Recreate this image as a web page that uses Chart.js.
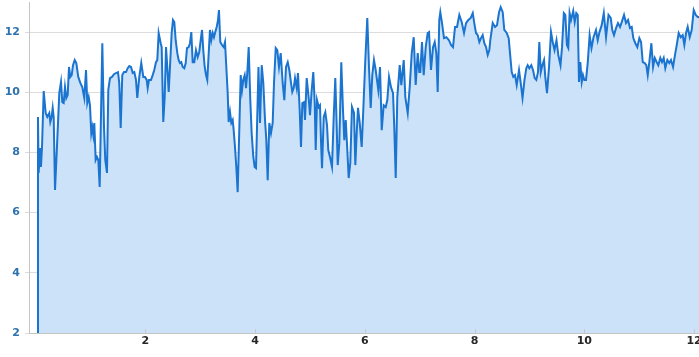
<!DOCTYPE html>
<html>
<head>
<meta charset="utf-8">
<script src="https://cdn.jsdelivr.net/npm/chart.js@4/dist/chart.umd.min.js"></script>
<style>
html,body{margin:0;padding:0;background:#fff;overflow:hidden;width:699px;height:357px;}
canvas{display:block;}
</style>
</head>
<body>
<canvas id="c" width="716" height="357"></canvas>
<script>
// x positions of the samples
const xValues = [
0.026,0.044,0.056,0.080,0.098,0.117,0.148,0.184,0.213,0.250,0.268,0.293,0.312,0.330,0.354,0.395,0.432,0.463,0.487,0.512,
0.536,0.560,0.585,0.609,0.632,0.658,0.682,0.713,0.742,0.778,0.815,0.851,0.888,0.919,0.942,0.968,0.991,1.015,1.033,1.052,
1.070,1.095,1.119,1.143,1.168,1.216,1.247,1.270,1.301,1.325,1.356,1.392,1.429,1.465,1.502,1.525,1.551,1.580,1.611,1.648,
1.679,1.708,1.739,1.770,1.799,1.830,1.853,1.890,1.926,1.963,
1.994,2.025,2.043,2.067,2.103,2.134,2.163,2.194,2.218,2.243,2.280,2.298,2.327,2.353,2.377,2.400,2.426,2.449,2.480,2.504,
2.528,2.553,2.583,2.608,2.632,2.655,2.681,2.710,2.736,2.759,2.790,2.814,2.838,2.863,2.892,2.923,2.954,2.983,3.009,3.033,
3.056,3.082,3.106,3.129,3.155,3.178,3.202,3.228,3.251,3.275,3.301,3.324,3.342,3.366,3.397,3.428,3.452,3.476,3.501,3.519,
3.543,3.567,3.592,3.610,3.634,3.658,3.683,3.738,3.762,3.785,3.811,3.835,3.858,3.884,3.913,3.938,3.968,3.993,4.017,4.062,
4.090,4.121,4.150,4.181,4.205,4.230,4.259,4.290,4.321,4.345,4.376,4.405,4.436,4.467,4.503,4.533,4.564,4.595,4.624,4.655,
4.678,4.704,4.728,4.759,4.782,4.813,4.837,4.861,4.892,4.910,4.941,4.977,5.001,5.032,5.061,5.087,5.105,5.129,5.160,5.183,
5.201,5.220,5.251,5.280,5.311,5.334,5.365,5.402,5.433,5.462,5.488,5.506,5.535,5.571,5.602,5.626,5.652,5.681,5.706,5.735,
5.766,5.803,5.827,5.852,5.876,5.907,5.943,5.972,6.009,6.045,6.076,6.107,6.136,6.167,
6.198,6.246,6.277,6.308,6.344,6.381,6.410,6.441,6.477,6.514,6.537,6.563,6.592,6.636,6.665,6.709,6.738,6.782,6.818,6.855,
6.891,6.927,6.964,6.993,7.011,7.042,7.073,7.110,7.146,7.170,7.206,7.243,7.274,7.303,7.328,7.357,7.376,7.407,7.443,7.485,
7.534,7.571,7.607,7.644,7.680,7.722,7.766,7.808,7.845,7.886,7.930,7.967,7.995,8.026,8.057,8.087,8.117,8.148,8.178,8.209,
8.240,8.269,
8.287,8.331,8.373,8.409,8.446,8.476,8.513,8.542,8.586,8.622,8.646,8.677,8.706,8.737,8.768,8.810,8.841,8.874,8.910,8.943,
8.968,8.998,9.034,9.065,9.096,9.125,9.156,9.180,9.206,9.235,9.266,9.289,9.320,9.357,9.393,9.424,9.457,9.493,9.526,9.566,
9.594,9.627,9.654,9.683,9.708,9.732,9.758,9.798,9.825,9.854,9.880,9.903,9.927,9.953,9.976,10.000,10.031,10.062,10.097,10.131,
10.168,10.213,10.244,10.277,10.317,10.355,
10.396,10.441,10.481,10.510,10.541,10.578,10.614,10.651,10.682,10.724,10.760,10.797,10.833,10.864,10.893,10.930,10.966,11.003,11.034,11.065,
11.101,11.130,11.156,11.185,11.222,11.253,11.284,11.320,11.349,11.385,11.416,11.447,11.476,11.513,11.549,11.580,11.617,11.653,11.690,11.720,
11.757,11.793,11.823,11.854,11.884,11.921,11.957,11.994,12.030,12.067,12.091,12.164
];
// series values
const yValues = [
2.00,9.18,7.32,8.15,7.52,8.18,10.04,9.31,9.18,9.31,9.01,9.18,9.48,9.18,6.75,8.41,9.97,10.34,9.67,9.64,
10.17,9.81,9.91,10.84,10.51,10.57,10.90,11.07,10.97,10.51,10.31,10.17,9.81,10.74,9.64,9.84,9.57,8.64,8.84,8.58,
8.98,7.75,7.85,7.75,6.85,11.63,8.84,7.75,7.32,10.07,10.47,10.51,10.60,10.64,10.67,10.31,8.81,10.57,10.67,10.67,
10.80,10.87,10.84,10.64,10.67,10.41,9.81,10.51,10.97,10.51,
10.51,10.41,10.14,10.41,10.41,10.57,10.74,11.00,11.07,11.97,11.63,11.50,9.01,9.84,11.50,10.84,10.01,10.84,11.97,12.40,
12.33,11.73,11.30,11.07,10.97,11.00,10.84,10.80,10.97,11.47,11.50,11.63,12.00,11.00,11.00,11.40,11.17,11.34,11.73,12.07,
11.40,10.84,10.57,10.41,11.30,12.07,11.73,11.97,11.83,12.00,12.17,12.40,12.73,11.67,11.57,11.50,11.67,10.84,9.97,9.01,
9.34,8.98,9.08,8.74,8.18,7.52,6.68,10.57,10.07,10.41,10.57,10.14,10.64,11.50,9.74,8.64,7.85,7.52,7.48,10.84,
8.98,10.90,10.31,9.08,8.41,7.08,8.98,8.64,8.98,10.31,11.47,11.40,10.84,11.30,10.31,9.74,10.84,11.00,10.74,10.31,
10.01,10.14,10.47,10.14,10.64,9.41,8.18,9.64,9.67,9.08,10.47,9.81,9.24,10.07,10.67,9.64,8.08,9.74,9.51,9.57,
8.41,7.48,9.18,9.34,8.91,8.08,7.85,7.52,9.18,10.47,8.84,7.58,8.31,11.00,9.41,8.41,9.08,8.08,7.15,7.65,
9.51,9.31,7.58,8.64,9.48,8.98,8.18,9.41,11.07,12.47,10.84,9.48,10.57,11.07,
10.74,10.07,10.84,8.74,9.57,9.51,9.74,10.51,10.17,9.97,8.84,7.15,9.84,10.90,10.24,11.07,9.84,9.31,10.17,11.30,
11.83,10.24,11.30,10.67,10.67,11.67,10.57,11.50,11.97,12.00,10.74,11.50,11.67,11.30,10.01,12.40,12.66,12.30,11.80,11.83,
11.73,11.57,11.50,12.17,12.17,12.57,12.33,11.97,12.30,12.40,12.47,12.63,12.30,11.97,11.90,11.67,11.80,11.90,11.63,11.50,
11.24,11.40,
11.73,12.30,12.17,12.23,12.66,12.83,12.66,12.07,11.97,11.80,11.30,10.67,10.51,10.57,10.24,10.74,10.31,9.81,10.41,10.80,
10.90,10.80,10.90,10.74,10.47,10.41,10.67,11.67,10.67,10.90,11.07,10.51,9.97,10.84,12.00,11.67,11.40,11.73,11.24,10.90,
11.50,12.63,12.57,11.57,11.47,12.63,12.40,12.70,12.33,12.63,12.57,10.34,11.00,10.34,10.57,10.41,10.41,10.97,11.90,11.47,
11.83,12.07,11.73,12.00,12.23,12.63,
11.83,12.57,12.47,12.07,11.90,12.13,12.30,12.17,12.33,12.57,12.30,12.40,12.13,12.17,11.80,11.63,11.50,11.80,11.67,11.00,
10.97,10.90,10.57,11.00,11.63,10.84,11.14,11.00,10.90,11.14,11.00,11.14,10.80,11.07,10.97,11.07,10.84,11.24,11.63,11.97,
11.83,11.90,11.57,11.97,12.17,11.83,12.07,12.73,12.57,12.50,12.50,12.33
];
// tick labels
const xTickValues = [2, 4, 6, 8, 10, 12];
const yTickValues = [2, 4, 6, 8, 10, 12];

const points = xValues.map((x, i) => ({ x: x, y: yValues[i] }));

const innerTicks = {
  id: 'innerTicks',
  afterDatasetsDraw(chart) {
    const xs = chart.scales.x, ctx = chart.ctx;
    ctx.save();
    ctx.strokeStyle = '#c8c8c8';
    ctx.lineWidth = 1;
    xTickValues.forEach(v => {
      const px = Math.round(xs.getPixelForValue(v)) + 0.5;
      ctx.beginPath();
      ctx.moveTo(px, chart.chartArea.bottom - 4);
      ctx.lineTo(px, chart.chartArea.bottom);
      ctx.stroke();
    });
    ctx.restore();
  }
};

new Chart(document.getElementById('c'), {
  type: 'line',
  data: {
    datasets: [{
      data: points,
      borderColor: '#1a74d0',
      backgroundColor: '#cce2f8',
      borderWidth: 2,
      fill: 'start',
      pointRadius: 0,
      tension: 0
    }]
  },
  options: {
    responsive: false,
    animation: false,
    layout: { padding: { top: 2, right: 0, bottom: 0, left: 0 } },
    plugins: { legend: { display: false }, tooltip: { enabled: false } },
    scales: {
      x: {
        type: 'linear',
        min: -0.12,
        max: 12.4,
        afterBuildTicks(s) { s.ticks = xTickValues.map(v => ({ value: v })); },
        afterFit(s) { s.height = 24; s.paddingLeft = 0; s.paddingRight = 0; },
        ticks: {
          font: { family: 'DejaVu Sans', size: 11, weight: 'bold' },
          color: '#262626',
          padding: 2,
          maxRotation: 0,
          autoSkip: false
        },
        grid: { drawOnChartArea: false, drawTicks: false },
        border: { display: true, color: '#c4c4c4', width: 1 }
      },
      y: {
        min: 2,
        max: 13,
        afterBuildTicks(s) { s.ticks = yTickValues.map(v => ({ value: v })); },
        afterFit(s) { s.width = 29; s.paddingTop = 0; s.paddingBottom = 0; },
        ticks: {
          font: { family: 'DejaVu Sans', size: 11, weight: 'bold' },
          color: '#2e72ae',
          padding: 5
        },
        grid: { color: '#dcdcdc', tickLength: 4, drawTicks: true },
        border: { display: true, color: '#c4c4c4', width: 1 }
      }
    }
  },
  plugins: [innerTicks]
});
</script>
</body>
</html>
